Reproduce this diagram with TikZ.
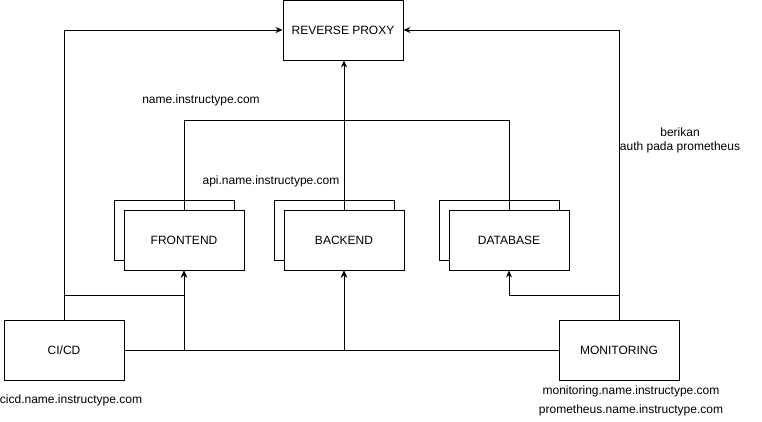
\documentclass[tikz,border=0pt]{standalone}
\usepackage{fontspec}
\setmainfont{Liberation Sans}
\usetikzlibrary{arrows.meta}
\begin{document}
\begin{tikzpicture}[x=1pt,y=-1pt,
  box/.style={draw,fill=white,line width=0.9pt,minimum width=120pt,minimum height=60pt,inner sep=0pt,font=\fontsize{12}{14}\selectfont},
  lbl/.style={inner sep=0pt,font=\fontsize{12}{14}\selectfont,align=center},
  ln/.style={line width=0.9pt},
  arr/.style={ln,-{Stealth[length=7pt,width=6pt]}}]
\useasboundingbox (0,0) rectangle (762,422);
% back boxes
\node[box] (feb) at (174,230) {};
\node[box] (beb) at (334,230) {};
\node[box] (dbb) at (499,230) {};
% main nodes
\node[box] (proxy) at (343,30) {REVERSE PROXY};
\node[box] (fe) at (184,240) {FRONTEND};
\node[box] (be) at (344,240) {BACKEND};
\node[box] (db) at (509,240) {DATABASE};
\node[box] (cicd) at (64,350) {CI/CD};
\node[box] (mon) at (619,350) {MONITORING};
% junctions
\coordinate (j) at (344,120);
\coordinate (c1) at (64,295);
\coordinate (m1) at (619,295);
% connectors
\draw[arr] (cicd.north) |- (proxy.west);
\draw[arr] (mon.north) |- (proxy.east);
\draw[ln] (fe.north) |- (j);
\draw[ln] (db.north) |- (j);
\draw[arr] (be.north) -- (be.north |- proxy.south);
\draw[arr] (c1) -| (fe.south);
\draw[arr] (cicd.east) -| (fe.south);
\draw[arr] (cicd.east) -| (be.south);
\draw[arr] (mon.west) -| (be.south);
\draw[arr] (m1) -| (db.south);
% labels
\node[lbl] (l1) at (201,100) {name.instructype.com};
\node[lbl] (l2) at (271,181) {api.name.instructype.com};
\node[lbl] (l3) at (680,140) {berikan\\auth pada prometheus};
\node[lbl] (l4) at (71,400) {cicd.name.instructype.com};
\node[lbl] (l5) at (631,391) {monitoring.name.instructype.com};
\node[lbl] (l6) at (631,410) {prometheus.name.instructype.com};
\end{tikzpicture}
\end{document}
